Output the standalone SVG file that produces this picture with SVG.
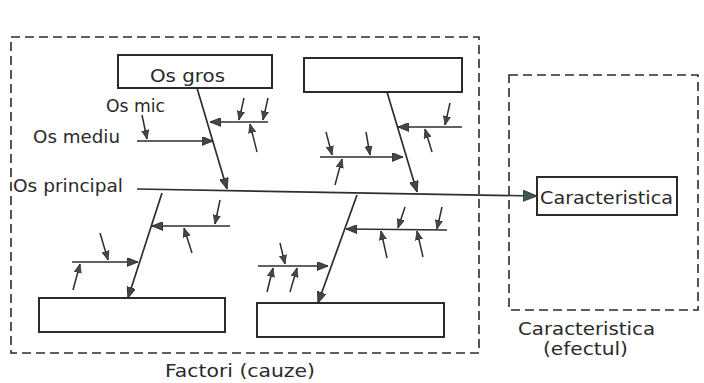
<svg xmlns="http://www.w3.org/2000/svg" width="704" height="383" viewBox="0 0 704 383">
  <defs>
    <marker id="ah" viewBox="0 0 10 8" refX="10" refY="4" markerWidth="11" markerHeight="9" markerUnits="userSpaceOnUse" orient="auto">
      <path d="M0,0 L10,4 L0,8 Z" fill="#3e4a44" stroke="#2a2a2a" stroke-width="0.8"/>
    </marker>
    <marker id="ahs" viewBox="0 0 10 8" refX="10" refY="4" markerWidth="9" markerHeight="8" markerUnits="userSpaceOnUse" orient="auto">
      <path d="M0,0 L10,4 L0,8 Z" fill="#4a4540" stroke="#2a2a2a" stroke-width="0.8"/>
    </marker>
    <marker id="ahb" viewBox="0 0 10 8" refX="10" refY="4" markerWidth="14" markerHeight="12" markerUnits="userSpaceOnUse" orient="auto">
      <path d="M0,0 L10,4 L0,8 Z" fill="#3a5a52" stroke="#2a2a2a" stroke-width="0.6"/>
    </marker>
  </defs>
  <style>
    .box { fill: #ffffff; stroke: #2b2b2b; stroke-width: 2; }
    .dash { fill: none; stroke: #2b2b2b; stroke-width: 1.6; stroke-dasharray: 9 5; }
    .ln { fill: none; stroke: #2e2e2e; stroke-width: 1.7; }
    .big { marker-end: url(#ah); }
    .sm { fill: none; stroke: #2e2e2e; stroke-width: 1.5; marker-end: url(#ahs); }
    text { font-family: "DejaVu Sans", "Liberation Sans", sans-serif; font-size: 18px; fill: #2a2a2a; }
  </style>
  <rect width="704" height="383" fill="#ffffff"/>

  <!-- outer groupings -->
  <g id="factori">
    <rect class="dash" x="11" y="37" width="468" height="316"/>
    <text x="165" y="377" textLength="150" lengthAdjust="spacingAndGlyphs">Factori (cauze)</text>
  </g>
  <g id="efect">
    <rect class="dash" x="509" y="75" width="189" height="235"/>
    <text x="518" y="335" textLength="137" lengthAdjust="spacingAndGlyphs">Caracteristica</text>
    <text x="543" y="355" textLength="85" lengthAdjust="spacingAndGlyphs">(efectul)</text>
  </g>

  <!-- factor boxes -->
  <g id="os-gros">
    <rect class="box" x="118" y="55" width="154" height="33"/>
    <text x="150" y="82" textLength="75" lengthAdjust="spacingAndGlyphs">Os gros</text>
  </g>
  <g id="factor-2">
    <rect class="box" x="304" y="58" width="158" height="34"/>
  </g>
  <g id="factor-3">
    <rect class="box" x="39" y="298" width="186" height="34"/>
  </g>
  <g id="factor-4">
    <rect class="box" x="257" y="303" width="187" height="34"/>
  </g>
  <g id="caracteristica">
    <rect class="box" x="537" y="177" width="140" height="38"/>
    <text x="540" y="204" textLength="133" lengthAdjust="spacingAndGlyphs">Caracteristica</text>
  </g>

  <!-- labels of the bone levels -->
  <g id="labels">
    <text x="106" y="112" textLength="59" lengthAdjust="spacingAndGlyphs">Os mic</text>
    <text x="33" y="143" textLength="87" lengthAdjust="spacingAndGlyphs">Os mediu</text>
    <text x="13" y="192" textLength="110" lengthAdjust="spacingAndGlyphs">Os principal</text>
  </g>

  <g id="connectors">
    <!-- main spine -->
    <path class="ln" d="M137,189 L537,196" marker-end="url(#ahb)"/>

    <!-- branch: Os gros -->
    <path class="ln big" d="M197,88 L227,189"/>
    <path class="ln big" d="M137,141 L213,141"/>
    <path class="sm" d="M142,115 L147,139"/>
    <path class="ln big" d="M268,122 L210,122"/>
    <path class="sm" d="M244,98 L239,120"/>
    <path class="sm" d="M268,98 L263,120"/>
    <path class="sm" d="M257,152 L250,124"/>

    <!-- branch: upper right -->
    <path class="ln big" d="M387,92 L417,192"/>
    <path class="ln big" d="M462,127 L398,127"/>
    <path class="sm" d="M450,103 L445,125"/>
    <path class="sm" d="M432,152 L425,129"/>
    <path class="ln big" d="M320,157 L403,157"/>
    <path class="sm" d="M326,132 L332,155"/>
    <path class="sm" d="M366,132 L370,155"/>
    <path class="sm" d="M335,185 L342,159"/>

    <!-- branch: lower left -->
    <path class="ln big" d="M162,193 L128,298"/>
    <path class="ln big" d="M230,226 L152,226"/>
    <path class="sm" d="M220,200 L215,224"/>
    <path class="sm" d="M192,253 L184,228"/>
    <path class="ln big" d="M72,262 L138,262"/>
    <path class="sm" d="M100,233 L108,260"/>
    <path class="sm" d="M73,290 L80,264"/>

    <!-- branch: lower right -->
    <path class="ln big" d="M357,195 L318,303"/>
    <path class="ln big" d="M447,230 L346,229"/>
    <path class="sm" d="M405,207 L398,228"/>
    <path class="sm" d="M442,207 L437,229"/>
    <path class="sm" d="M387,258 L381,231"/>
    <path class="sm" d="M423,257 L417,231"/>
    <path class="ln big" d="M258,266 L328,266"/>
    <path class="sm" d="M280,243 L285,264"/>
    <path class="sm" d="M267,292 L273,268"/>
    <path class="sm" d="M290,292 L297,268"/>
  </g>
</svg>
